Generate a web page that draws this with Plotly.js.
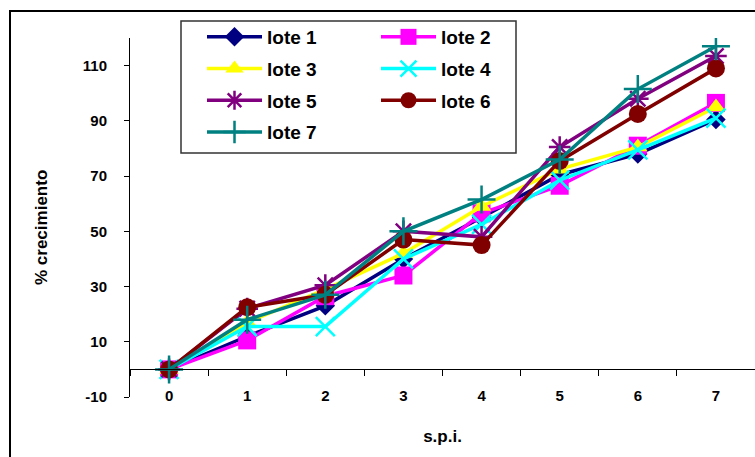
<!DOCTYPE html>
<html>
<head>
<meta charset="utf-8">
<script src="https://cdn.plot.ly/plotly-3.0.1.min.js"></script>
<style>html,body{margin:0;padding:0;background:#fff;}#chart{width:755px;height:457px;}</style>
</head>
<body>
<div id="chart"></div>
<script>
// ---- data ----
var categories = ['0', '1', '2', '3', '4', '5', '6', '7'];
var seriesNames = ['lote 1', 'lote 2', 'lote 3', 'lote 4', 'lote 5', 'lote 6', 'lote 7'];
var lote1 = [0, 12, 23, 40, 55, 70.5, 78, 90.5];
var lote2 = [0, 10.5, 26.5, 34, 56.5, 66.5, 81, 96.5];
var lote3 = [0, 17, 29, 42, 59, 72.5, 80.5, 95];
var lote4 = [0, 15.5, 15.5, 40, 52.5, 68.5, 79.5, 91];
var lote5 = [0, 22, 30.5, 50, 48, 80.5, 98, 113.5];
var lote6 = [0, 22.5, 27, 47, 45, 75.5, 92.5, 109];
var lote7 = [0, 18, 27, 50, 61.5, 76, 101.5, 117];
var seriesValues = [lote1, lote2, lote3, lote4, lote5, lote6, lote7];
var yTickVals = [-10, 10, 30, 50, 70, 90, 110];

// ---- styles ----
var colors = ['#000080', '#FF00FF', '#FFFF00', '#00FFFF', '#800080', '#800000', '#008080'];
var symbols = ['diamond', 'square', 'triangle-up', 'x-thin-open', 'asterisk-open', 'circle', 'cross-thin-open'];
var sizes = [15, 18, 17, 19, 18, 18, 20];
var legendsFor = ['legend', 'legend2', 'legend', 'legend2', 'legend', 'legend2', 'legend'];

var FONT = 'Liberation Sans, Arial, sans-serif';

var traces = seriesValues.map(function (vals, i) {
  var open = symbols[i].indexOf('open') >= 0;
  return {
    type: 'scatter',
    mode: 'lines+markers',
    name: seriesNames[i],
    x: categories,
    y: vals,
    legend: legendsFor[i],
    legendgroup: 'g' + i,
    line: {color: colors[i], width: 3.5},
    marker: {
      symbol: symbols[i],
      size: sizes[i],
      color: colors[i],
      line: {color: colors[i], width: open ? 2.5 : 0}
    }
  };
});

var legendCommon = {
  bgcolor: 'rgba(0,0,0,0)',
  borderwidth: 0,
  font: {family: FONT, size: 19, color: '#000', weight: 'bold'},
  traceorder: 'grouped',
  tracegroupgap: 4,
  itemwidth: 55,
  xanchor: 'left',
  yanchor: 'top',
  orientation: 'v'
};

function px2x(p) { return (p - 130) / 625; }
function py2y(p) { return (397 - p) / 359; }

var layout = {
  width: 755,
  height: 457,
  margin: {l: 130, r: 0, t: 38, b: 60, pad: 0},
  paper_bgcolor: '#ffffff',
  plot_bgcolor: '#ffffff',
  font: {family: FONT, color: '#000'},
  showlegend: true,
  legend: Object.assign({}, legendCommon, {x: px2x(202), y: py2y(18)}),
  legend2: Object.assign({}, legendCommon, {x: px2x(376), y: py2y(18)}),
  xaxis: {
    type: 'category',
    range: [-0.5, 7.5],
    anchor: 'free',
    position: 10 / 130,
    showline: true,
    linecolor: '#000',
    linewidth: 1,
    ticks: 'outside',
    tickson: 'boundaries',
    ticklen: 6,
    tickcolor: '#000',
    showgrid: false,
    zeroline: false,
    ticklabelstandoff: 13,
    tickfont: {family: FONT, size: 15, color: '#000', weight: 'bold'},
    title: {text: 's.p.i.', font: {family: FONT, size: 17, color: '#000', weight: 'bold'}, standoff: 26}
  },
  yaxis: {
    range: [-10, 120],
    tickvals: yTickVals,
    ticktext: yTickVals.map(String),
    showline: true,
    linecolor: '#000',
    linewidth: 1,
    ticks: 'outside',
    ticklen: 5,
    tickcolor: '#000',
    showgrid: false,
    zeroline: false,
    ticklabelstandoff: 14,
    tickfont: {family: FONT, size: 15, color: '#000', weight: 'bold'},
    title: {text: ''}
  },
  annotations: [
    {text: '% crecimiento', xref: 'paper', yref: 'paper', x: px2x(41), y: py2y(228),
     xanchor: 'center', yanchor: 'middle', textangle: -90, showarrow: false,
     font: {family: FONT, size: 17, color: '#000', weight: 'bold'}}
  ],
  shapes: [
    {type: 'rect', xref: 'paper', yref: 'paper', x0: px2x(10), x1: px2x(800), y0: py2y(500), y1: py2y(11),
     line: {color: '#000', width: 2}, fillcolor: 'rgba(0,0,0,0)', layer: 'above'},
    {type: 'rect', xref: 'paper', yref: 'paper', x0: px2x(181), x1: px2x(516), y0: py2y(153), y1: py2y(21),
     line: {color: '#333', width: 1.5}, fillcolor: '#ffffff', layer: 'above'}
  ]
};

Plotly.newPlot('chart', traces, layout, {displayModeBar: false, staticPlot: true});
</script>
</body>
</html>
